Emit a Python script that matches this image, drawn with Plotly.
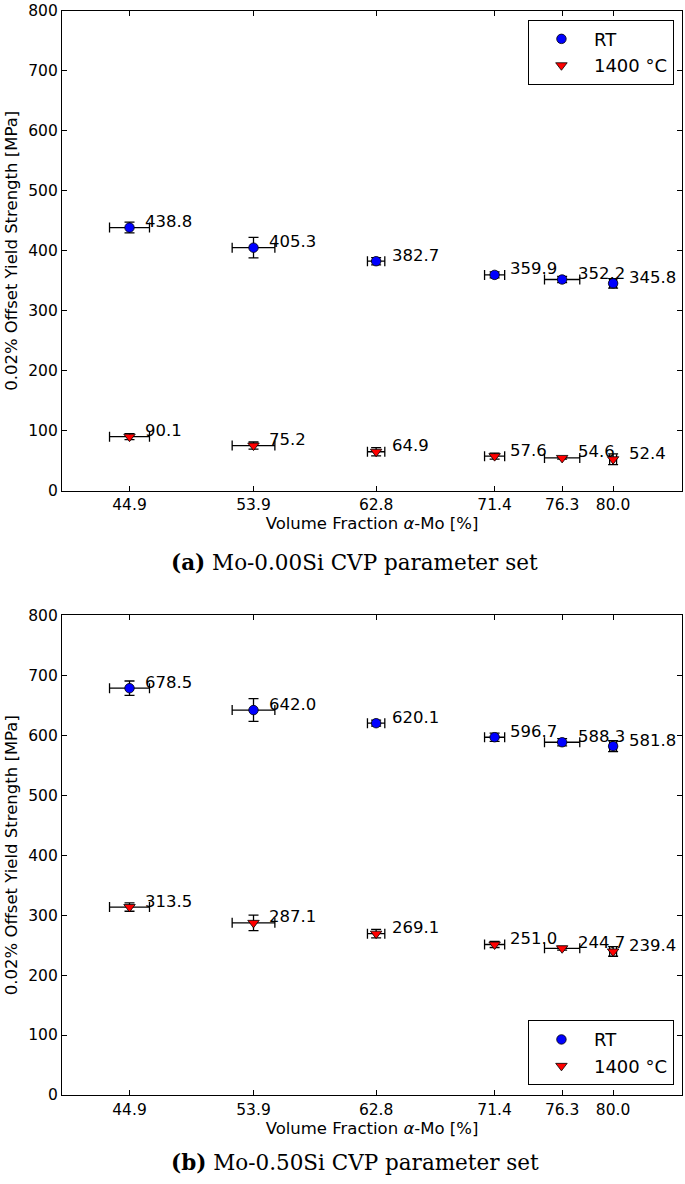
import plotly.graph_objects as go

# ---- data ----
vol_frac = [44.9, 53.9, 62.8, 71.4, 76.3, 80.0]
vol_frac_err = [1.45, 1.55, 0.63, 0.73, 1.28, 0.25]
tick_labels = ["44.9", "53.9", "62.8", "71.4", "76.3", "80.0"]

a_rt = [438.8, 405.3, 382.7, 359.9, 352.2, 345.8]
a_rt_err = [9, 17, 6, 5, 5, 8]
a_ht = [90.1, 75.2, 64.9, 57.6, 54.6, 52.4]
a_ht_err = [5, 6, 7, 5, 2, 9]

b_rt = [678.5, 642.0, 620.1, 596.7, 588.3, 581.8]
b_rt_err = [12, 19, 5, 7, 6, 9]
b_ht = [313.5, 287.1, 269.1, 251.0, 244.7, 239.4]
b_ht_err = [7, 13, 7, 5, 3, 8]

y_ticks = [0, 100, 200, 300, 400, 500, 600, 700, 800]
captions = ["<b>(a)</b> Mo-0.00Si CVP parameter set",
            "<b>(b)</b> Mo-0.50Si CVP parameter set"]

FONT = "DejaVu Sans"
W, H = 685, 1184
ML, MR, MT, MB = 62, 2, 8, 89
plot_h = H - MT - MB
top_dom = [(1095 - 489) / plot_h, 1.0]
bot_dom = [0.0, (1095 - 614) / plot_h]

fig = go.Figure()


def add_series(x, y, yerr, name, color, symbol, size, xa, ya, legend):
    fig.add_trace(go.Scatter(
        x=x, y=y, mode="markers", name=name,
        xaxis=xa, yaxis=ya, legend=legend,
        marker=dict(color=color, symbol=symbol, size=size,
                    line=dict(color="black", width=0.8)),
        error_x=dict(type="data", array=vol_frac_err, visible=True,
                     color="black", thickness=1.3, width=5),
        error_y=dict(type="data", array=yerr, visible=True,
                     color="black", thickness=1.3, width=5),
    ))
    for xv, yv in zip(x, y):
        fig.add_annotation(
            x=xv + 1.0, y=yv, xref=xa, yref=ya, text=f"{yv:.1f}",
            showarrow=False, xanchor="left", yanchor="middle", yshift=6,
            font=dict(family=FONT, size=16.5, color="black"))


add_series(vol_frac, a_rt, a_rt_err, "RT", "blue", "circle", 9.5, "x", "y", "legend")
add_series(vol_frac, a_ht, a_ht_err, "1400 °C", "red", "triangle-down", 10, "x", "y", "legend")
add_series(vol_frac, b_rt, b_rt_err, "RT", "blue", "circle", 9.5, "x2", "y2", "legend2")
add_series(vol_frac, b_ht, b_ht_err, "1400 °C", "red", "triangle-down", 10, "x2", "y2", "legend2")

axis_common = dict(
    showline=True, linecolor="black", linewidth=1.2, mirror="ticks",
    ticks="inside", ticklen=5, tickwidth=1, tickcolor="black",
    showgrid=False, zeroline=False,
    tickfont=dict(family=FONT, size=15.5, color="black"),
)

xaxis_common = dict(axis_common, range=[40, 85], tickmode="array",
                    tickvals=vol_frac, ticktext=tick_labels,
                    title=dict(text="Volume Fraction <i>α</i>-Mo [%]",
                               font=dict(family=FONT, size=16.5, color="black"),
                               standoff=3))
yaxis_common = dict(axis_common, range=[0, 800], tickmode="array",
                    tickvals=y_ticks,
                    title=dict(text="0.02% Offset Yield Strength [MPa]",
                               font=dict(family=FONT, size=16.5, color="black"),
                               standoff=6))

legend_common = dict(
    bordercolor="black", borderwidth=1, bgcolor="white",
    font=dict(family=FONT, size=18, color="black"),
    itemwidth=55, tracegroupgap=0,
    xref="paper", yref="paper", xanchor="right",
)

fig.update_layout(
    width=W, height=H,
    margin=dict(l=ML, r=MR, t=MT, b=MB),
    paper_bgcolor="white", plot_bgcolor="white",
    xaxis=dict(xaxis_common, domain=[0, 1], anchor="y"),
    yaxis=dict(yaxis_common, domain=top_dom, anchor="x"),
    xaxis2=dict(xaxis_common, domain=[0, 1], anchor="y2"),
    yaxis2=dict(yaxis_common, domain=bot_dom, anchor="x2"),
    legend=dict(legend_common, x=0.987, y=0.992, yanchor="top"),
    legend2=dict(legend_common, x=0.987, y=0.009, yanchor="bottom"),
)

cap_font = dict(family="DejaVu Serif", size=21.5, color="black")
fig.add_annotation(text=captions[0], xref="paper", yref="paper",
                   x=(355 - ML) / (W - ML - MR), y=(1095 - 561) / plot_h,
                   xanchor="center", yanchor="middle", showarrow=False,
                   font=cap_font)
fig.add_annotation(text=captions[1], xref="paper", yref="paper",
                   x=(355 - ML) / (W - ML - MR), y=(1095 - 1163) / plot_h,
                   xanchor="center", yanchor="middle", showarrow=False,
                   font=cap_font)

fig.write_html("out.html",
               config={"displayModeBar": False},
               post_script="document.body.style.margin='0';"
                           "document.body.style.overflow='hidden';")
